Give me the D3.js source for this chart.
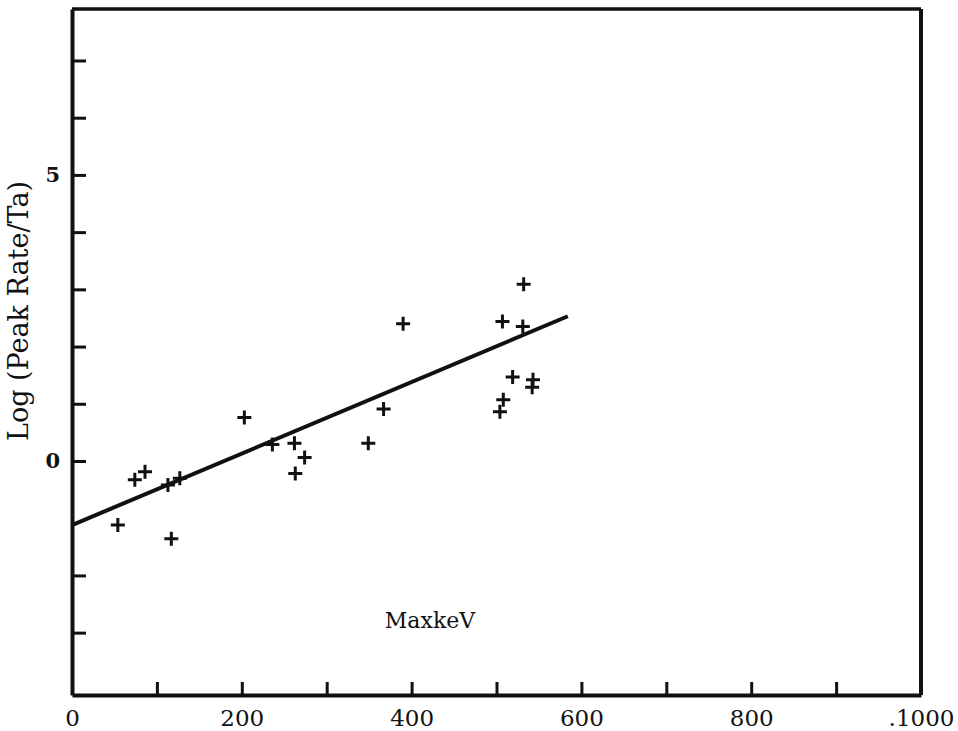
<!DOCTYPE html>
<html>
<head>
<meta charset="utf-8">
<script src="https://cdn.jsdelivr.net/npm/d3@7"></script>
<style>
  body { margin: 0; background: #fff; }
  #chart { width: 958px; height: 731px; }
  .tick text { font-family: "DejaVu Serif", serif; font-size: 23px; fill: #111; }
  .axis-label { font-family: "DejaVu Serif", serif; fill: #111; }
</style>
</head>
<body>
<div id="chart"></div>
<script>
// data
const maxKeV   = [54, 74, 86, 113, 127, 117, 203, 236, 262, 274, 263, 349, 367, 390, 532, 507, 531, 519, 543, 542, 508, 504];
const logPeak  = [-1.12, -0.33, -0.19, -0.42, -0.30, -1.36, 0.76, 0.29, 0.31, 0.06, -0.22, 0.31, 0.91, 2.40, 3.09, 2.44, 2.35, 1.47, 1.42, 1.29, 1.07, 0.86];
const fitX     = [0, 584];
const fitY     = [-1.12, 2.53];
const xTicks   = [0, 100, 200, 300, 400, 500, 600, 700, 800, 900, 1000];
const xLabels  = {0: "0", 200: "200", 400: "400", 600: "600", 800: "800", 1000: ".1000"};
const yTicks   = [-3, -2, 0, 1, 2, 3, 4, 5, 6, 7];
const yLabels  = {0: "0", 5: "5"};
const xLabel   = "MaxkeV";
const yLabel   = "Log (Peak Rate/Ta)";

// dimensions
const W = 958, H = 731;
const margin = {top: 9, right: 37, bottom: 36, left: 72},
    width = W - margin.left - margin.right,
    height = H - margin.top - margin.bottom;

const x = d3.scaleLinear().domain([0, 1000]).range([0, width]);
const y = d3.scaleLinear().domain([-4.09, 7.9]).range([height, 0]);

const svg = d3.select("#chart")
  .append("svg")
    .attr("width", W)
    .attr("height", H)
  .append("g")
    .attr("transform", "translate(" + margin.left + "," + margin.top + ")");

// frame top / right
svg.append("line")
  .attr("x1", 0).attr("x2", width).attr("y1", 0).attr("y2", 0)
  .attr("stroke", "#111").attr("stroke-width", 3.5);
svg.append("line")
  .attr("x1", width).attr("x2", width).attr("y1", 0).attr("y2", height)
  .attr("stroke", "#111").attr("stroke-width", 4);

// x axis, ticks point up
const xAxis = svg.append("g")
  .attr("transform", "translate(0," + height + ")")
  .call(d3.axisBottom(x).tickValues(xTicks).tickSizeInner(-13).tickSizeOuter(0)
    .tickPadding(15).tickFormat(d => xLabels[d] || ""));

// y axis, ticks point right
const yAxis = svg.append("g")
  .call(d3.axisLeft(y).tickValues(yTicks).tickSizeInner(-14).tickSizeOuter(0)
    .tickPadding(12).tickFormat(d => yLabels[d] || ""));

[xAxis, yAxis].forEach(a => {
  a.select(".domain").attr("stroke", "#111").attr("stroke-width", 4);
  a.selectAll(".tick line").attr("stroke", "#111").attr("stroke-width", 3);
});
yAxis.selectAll(".tick text").attr("font-weight", "bold").style("font-size", "21px");

// fitted line
svg.append("line")
  .attr("x1", x(fitX[0])).attr("y1", y(fitY[0]))
  .attr("x2", x(fitX[1])).attr("y2", y(fitY[1]))
  .attr("stroke", "#111").attr("stroke-width", 4);

// crosses
const pts = maxKeV.map((v, i) => ({kev: v, lp: logPeak[i]}));
const arm = 7;
svg.append("g").selectAll("path")
  .data(pts)
  .join("path")
    .attr("d", d => {
      const cx = x(d.kev), cy = y(d.lp);
      return `M${cx - arm},${cy}H${cx + arm}M${cx},${cy - arm}V${cy + arm}`;
    })
    .attr("stroke", "#111")
    .attr("stroke-width", 3)
    .attr("fill", "none");

// labels
svg.append("text")
  .attr("class", "axis-label")
  .attr("text-anchor", "middle")
  .attr("font-size", 22)
  .attr("x", 358).attr("y", 619)
  .text(xLabel);

svg.append("text")
  .attr("class", "axis-label")
  .attr("text-anchor", "middle")
  .attr("font-size", 27)
  .attr("transform", "translate(-44," + 302 + ") rotate(-90)")
  .text(yLabel);
</script>
</body>
</html>
